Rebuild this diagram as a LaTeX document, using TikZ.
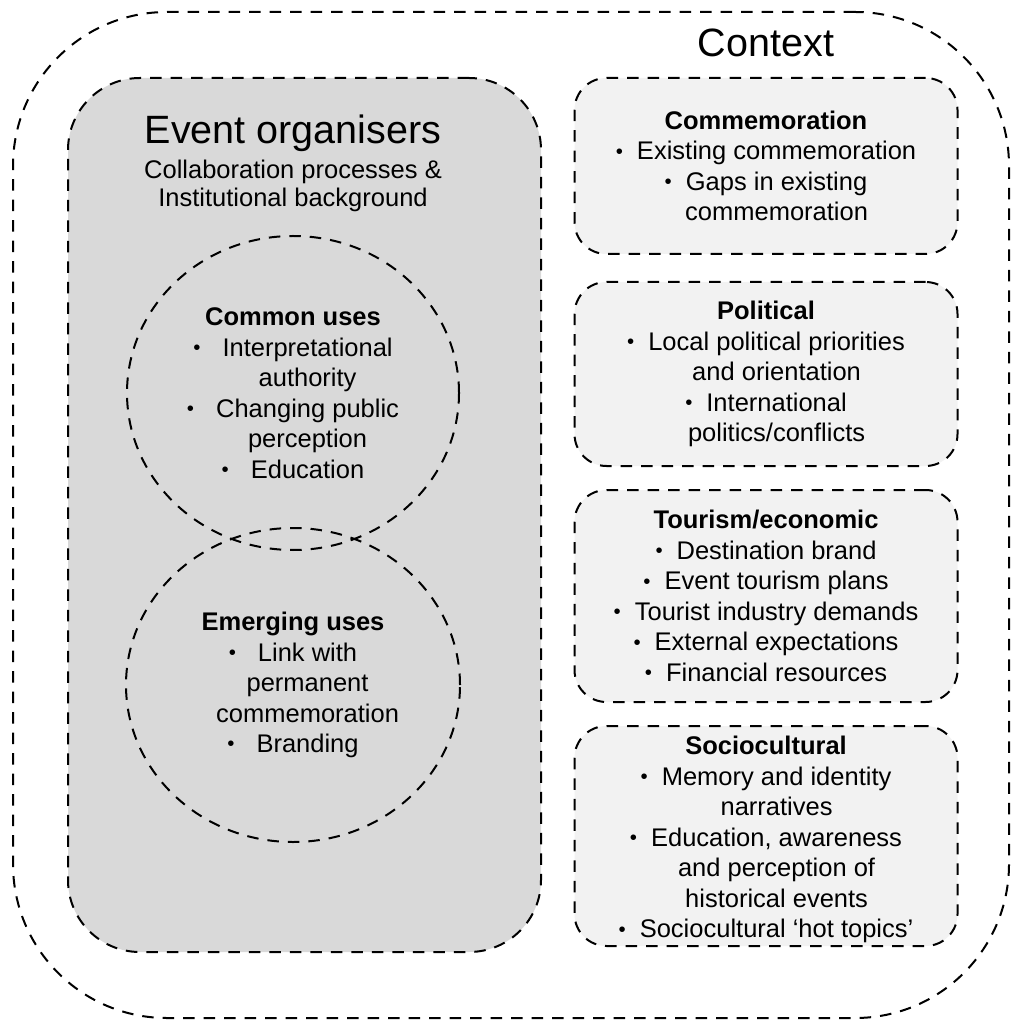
\documentclass[tikz,border=0pt]{standalone}
\usepackage{fontspec}
\setmainfont{Liberation Sans}
\usetikzlibrary{positioning, shapes.geometric}
\definecolor{orggrey}{HTML}{D9D9D9}
\definecolor{boxgrey}{HTML}{F2F2F2}
\newcommand{\dotmark}{\raisebox{0.12ex}{\scalebox{0.8}{\textbullet}}}
\newcommand{\itm}{\dotmark\hspace{7pt}}
\newcommand{\ind}{\hphantom{\itm}}
\newcommand{\citm}{\dotmark\hspace{11pt}}
\newcommand{\cind}{\hphantom{\citm}}

\begin{document}
\begin{tikzpicture}[x=0.5pt, y=-0.5pt, node distance=13pt,
    dashline/.style={draw=black, line width=1pt, dash pattern=on 5.75pt off 4.5pt},
    ctxbox/.style={dashline, fill=boxgrey, rounded corners=16pt,
      minimum width=191.5pt, inner sep=0pt, align=center,
      font=\fontsize{12.75}{15.25}\selectfont},
    usecirc/.style={dashline, ellipse, inner sep=0pt, minimum width=166pt,
      minimum height=157pt, align=center,
      font=\fontsize{12.75}{15.25}\selectfont},
    bigtitle/.style={font=\fontsize{19.75}{23}\selectfont, inner sep=0pt}]
  \useasboundingbox (0,0) rectangle (1011,1020);
  % context frame
  \node[dashline, rounded corners=77pt, minimum width=498pt,
    minimum height=503pt] (context) at (511,515) {};
  \node[bigtitle] (contexttitle) at (766,43) {Context};
  % event organisers
  \node[dashline, fill=orggrey, rounded corners=36pt, minimum width=236.5pt,
    minimum height=437pt] (org) at (304.5,515) {};
  \node[bigtitle] (orgtitle) at (293,133) {Event organisers};
  \node[inner sep=0pt, align=center, font=\fontsize{12.75}{14}\selectfont]
    (orgsub) at (293,186) {Collaboration processes \&\\Institutional background};
  % uses
  \node[usecirc] (common) at (293,393) {\textbf{Common uses}\\
    \citm Interpretational\\ \cind authority\\
    \citm Changing public\\ \cind perception\\
    \citm Education};
  \node[usecirc, minimum width=167pt, below=-12pt of common] (emerging) {\textbf{Emerging uses}\\
    \citm Link with\\ \cind permanent\\ \cind commemoration\\
    \citm Branding};
  % context factors
  \node[ctxbox, minimum height=88pt] (commem) at (766,166) {\textbf{Commemoration}\\
    \itm Existing commemoration\\
    \itm Gaps in existing\\ \ind commemoration};
  \node[ctxbox, minimum height=92pt, below=13pt of commem] (polit) {\textbf{Political}\\
    \itm Local political priorities\\ \ind and orientation\\
    \itm International\\ \ind politics/conflicts};
  \node[ctxbox, minimum height=106pt, below=11pt of polit] (tourism) {\textbf{Tourism/economic}\\
    \itm Destination brand\\
    \itm Event tourism plans\\
    \itm Tourist industry demands\\
    \itm External expectations\\
    \itm Financial resources};
  \node[ctxbox, minimum height=110pt, below=11pt of tourism] (socio) {\rule{0pt}{13pt}\textbf{Sociocultural}\\
    \itm Memory and identity\\ \ind narratives\\
    \itm Education, awareness\\ \ind and perception of\\ \ind historical events\\
    \itm Sociocultural `hot topics'};
\end{tikzpicture}
\end{document}
